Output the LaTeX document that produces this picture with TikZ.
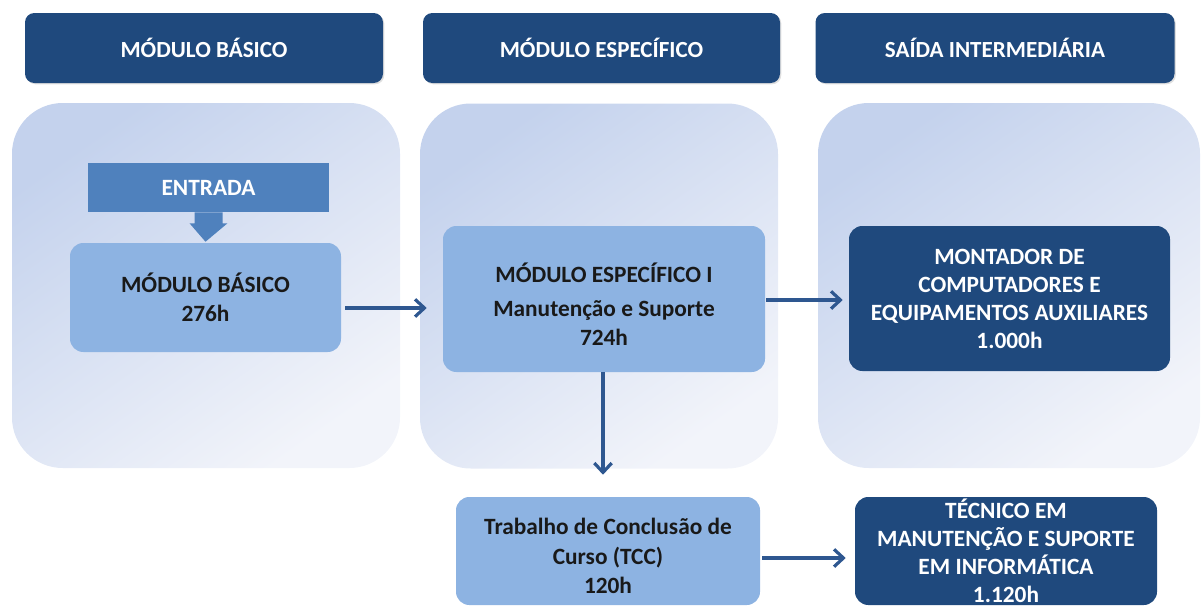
\documentclass[tikz,border=0pt]{standalone}
\usepackage{fontspec}
\setmainfont{Carlito}
\usetikzlibrary{calc,arrows.meta,shadows}
\definecolor{hdr}{HTML}{1F497D}
\definecolor{dark}{HTML}{1F497D}
\definecolor{light}{HTML}{8DB3E2}
\definecolor{mid}{HTML}{4F81BD}
\definecolor{arrc}{HTML}{2E5790}
\definecolor{panA}{HTML}{C4D2ED}
\definecolor{panB}{HTML}{F2F4FA}
\tikzset{
  hdrbox/.style={fill=hdr, rounded corners=7pt, text=white, font=\bfseries\fontsize{17.3}{20}\selectfont,
     inner sep=0pt, minimum height=70*0.75pt, drop shadow={opacity=0.25, shadow xshift=1pt, shadow yshift=-1pt}},
  panel/.style={rounded corners=38pt, top color=panA, bottom color=panB, shading angle=35, inner sep=0pt, minimum height=365*0.75pt},
  lightbox/.style={fill=light, rounded corners=10pt, text=black!90, align=center, inner sep=0pt,
     font=\bfseries\fontsize{17.5}{21.5}\selectfont},
  darkbox/.style={fill=dark, rounded corners=10pt, text=white, align=center, inner sep=0pt,
     font=\bfseries\fontsize{17.5}{21}\selectfont},
  arr/.style={draw=arrc, line width=2.6pt, -{Straight Barb[length=7pt,width=13pt,line width=2.4pt]}},
}
\begin{document}
\begin{tikzpicture}[x=0.75pt,y=-0.75pt]
\useasboundingbox (0,0) rectangle (1202,607);
% headers
\node[hdrbox, minimum width=358*0.75pt] (h1) at (204,48) {MÓDULO BÁSICO};
\node[hdrbox, minimum width=357*0.75pt] (h2) at (601.5,48) {MÓDULO ESPECÍFICO};
\node[hdrbox, minimum width=359*0.75pt] (h3) at (995,48) {SAÍDA INTERMEDIÁRIA};
% panels
\node[panel, minimum width=388*0.75pt] (p1) at (206,285.5) {};
\node[panel, minimum width=358*0.75pt] (p2) at (599,286) {};
\node[panel, minimum width=382*0.75pt] (p3) at (1009,285.5) {};
% entrada
\node[fill=mid, text=white, font=\bfseries\fontsize{17.5}{20}\selectfont, minimum width=241*0.75pt, minimum height=49*0.75pt, inner sep=0pt] (ent) at (208.5,187.5) {ENTRADA};
% boxes
\node[lightbox, minimum width=271*0.75pt, minimum height=109*0.75pt] (mb) at (205.5,297.5) {MÓDULO BÁSICO\\276h};
\fill[mid] ($(ent.south)+(-14,0)$) -- ++(0,11) -- ++(-5,0) -- ($(mb.north)+(0,-1)$) -- ($(ent.south)+(19,11)$) -- ++(-5,0) -- ++(0,-11) -- cycle;
\node[lightbox, minimum width=322*0.75pt, minimum height=146*0.75pt] (me) at (604,299) {\rule{0pt}{22pt}MÓDULO ESPECÍFICO I\\[4pt]Manutenção e Suporte\\724h};
\node[darkbox, minimum width=321*0.75pt, minimum height=145*0.75pt] (mont) at (1009.5,298.5) {MONTADOR DE\\COMPUTADORES E\\EQUIPAMENTOS AUXILIARES\\1.000h};
\node[lightbox, minimum width=304*0.75pt, minimum height=108*0.75pt, font=\bfseries\fontsize{17.5}{22}\selectfont] (tcc) at (608,551) {\rule{0pt}{20pt}Trabalho de Conclusão de\\Curso (TCC)\\120h};
\node[darkbox, minimum width=302*0.75pt, minimum height=108*0.75pt] (tec) at (1006,551) {TÉCNICO EM\\MANUTENÇÃO E SUPORTE\\EM INFORMÁTICA\\1.120h};
% connectors
\draw[arr] ($(mb.east)+(4,10.5)$) -- ($(me.west)+(-16,9)$);
\draw[arr] ($(me.east)+(1,1)$) -- ($(mont.west)+(-6,1.5)$);
\draw[arr] ($(me.south)+(-1,0)$) -- ($(me.south |- tcc.north)+(-1,-22)$);
\draw[arr] ($(tcc.east)+(2,7)$) -- ($(tec.west)+(-9,7)$);
\end{tikzpicture}
\end{document}
